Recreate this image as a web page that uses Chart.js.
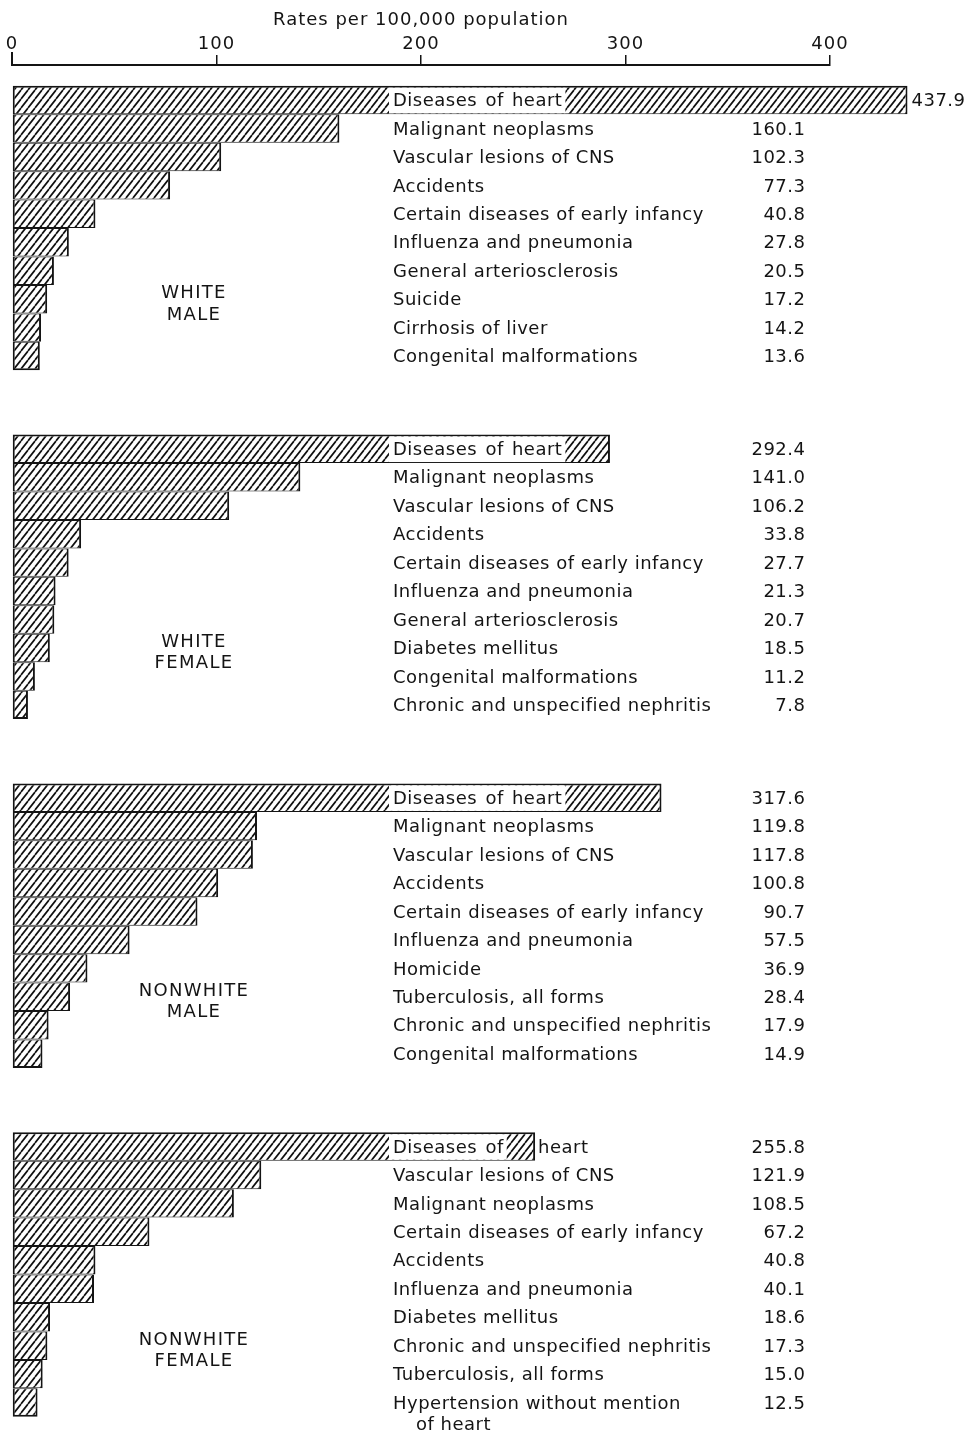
<!DOCTYPE html>
<html>
<head>
<meta charset="utf-8">
<script src="https://cdn.jsdelivr.net/npm/chart.js@4.4.0/dist/chart.umd.min.js"></script>
<style>
  html, body { margin: 0; padding: 0; background: #ffffff; }
  #wrap { position: relative; width: 974px; height: 1433px; }
</style>
</head>
<body>
<div id="wrap"><canvas id="chart" width="974" height="1433"></canvas></div>
<script>
// Leading causes of death, rates per 100,000 population, by colour and sex
const axisTicks = [0, 100, 200, 300, 400];
const axisTitle = 'Rates per 100,000 population';

const whiteMaleCauses = ['Diseases of heart', 'Malignant neoplasms', 'Vascular lesions of CNS', 'Accidents',
  'Certain diseases of early infancy', 'Influenza and pneumonia', 'General arteriosclerosis', 'Suicide',
  'Cirrhosis of liver', 'Congenital malformations'];
const whiteMaleRates = [437.9, 160.1, 102.3, 77.3, 40.8, 27.8, 20.5, 17.2, 14.2, 13.6];

const whiteFemaleCauses = ['Diseases of heart', 'Malignant neoplasms', 'Vascular lesions of CNS', 'Accidents',
  'Certain diseases of early infancy', 'Influenza and pneumonia', 'General arteriosclerosis', 'Diabetes mellitus',
  'Congenital malformations', 'Chronic and unspecified nephritis'];
const whiteFemaleRates = [292.4, 141.0, 106.2, 33.8, 27.7, 21.3, 20.7, 18.5, 11.2, 7.8];

const nonwhiteMaleCauses = ['Diseases of heart', 'Malignant neoplasms', 'Vascular lesions of CNS', 'Accidents',
  'Certain diseases of early infancy', 'Influenza and pneumonia', 'Homicide', 'Tuberculosis, all forms',
  'Chronic and unspecified nephritis', 'Congenital malformations'];
const nonwhiteMaleRates = [317.6, 119.8, 117.8, 100.8, 90.7, 57.5, 36.9, 28.4, 17.9, 14.9];

const nonwhiteFemaleCauses = ['Diseases of heart', 'Vascular lesions of CNS', 'Malignant neoplasms',
  'Certain diseases of early infancy', 'Accidents', 'Influenza and pneumonia', 'Diabetes mellitus',
  'Chronic and unspecified nephritis', 'Tuberculosis, all forms', 'Hypertension without mention\nof heart'];
const nonwhiteFemaleRates = [255.8, 121.9, 108.5, 67.2, 40.8, 40.1, 18.6, 17.3, 15.0, 12.5];

const groupNames = [['WHITE', 'MALE'], ['WHITE', 'FEMALE'], ['NONWHITE', 'MALE'], ['NONWHITE', 'FEMALE']];

const groups = [
  { name: groupNames[0], causes: whiteMaleCauses, rates: whiteMaleRates },
  { name: groupNames[1], causes: whiteFemaleCauses, rates: whiteFemaleRates },
  { name: groupNames[2], causes: nonwhiteMaleCauses, rates: nonwhiteMaleRates },
  { name: groupNames[3], causes: nonwhiteFemaleCauses, rates: nonwhiteFemaleRates }
];

// layout along the (hidden) vertical axis: one unit per bar, a gap between panels
const GROUP_STEP = 12.26;
const Y_MIN = -1.23, Y_MAX = 46.85;
const LABEL_AT = 186.3;      // x value where cause names start
const VALUE_AT = 388;        // x value where rate figures end
const NAME_AT = 89;          // x value at the centre of the panel names
const NAME_ROWS = [6.77, 7.52];
const INK = '#141414';
const FONT = '"DejaVu Sans", sans-serif';

// data points: one bar per cause, placed on a numeric row axis
const points = [];
const rowOf = [];
groups.forEach((grp, g) => {
  grp.rates.forEach((v, i) => {
    points.push({ x: v, y: g * GROUP_STEP + i });
    rowOf.push(i);
  });
});

// diagonal hatching used to fill the bars
function makeHatch() {
  const w = 7, h = 9;
  const t = document.createElement('canvas');
  t.width = w; t.height = h;
  const g = t.getContext('2d');
  g.fillStyle = '#ffffff';
  g.fillRect(0, 0, w, h);
  g.strokeStyle = '#111111';
  g.lineWidth = 1.7;
  g.beginPath();
  for (const dx of [-w, 0, w]) {
    g.moveTo(dx, h);
    g.lineTo(dx + w, 0);
  }
  g.stroke();
  return document.getElementById('chart').getContext('2d').createPattern(t, 'repeat');
}

const spacing = {
  id: 'spacing',
  beforeDraw(chart) { chart.ctx.letterSpacing = '1px'; }
};

const annotate = {
  id: 'annotate',
  afterDatasetsDraw(chart) {
    const { ctx, chartArea } = chart;
    const xs = chart.scales.x, ys = chart.scales.y;
    const meta = chart.getDatasetMeta(0);
    ctx.save();

    // the zero tick stands a little taller than the others
    ctx.strokeStyle = INK;
    ctx.lineWidth = 2;
    ctx.beginPath();
    ctx.moveTo(xs.getPixelForValue(0), chartArea.top - 13);
    ctx.lineTo(xs.getPixelForValue(0), chartArea.top);
    ctx.stroke();

    ctx.fillStyle = INK;
    ctx.textBaseline = 'middle';
    ctx.font = '18px ' + FONT;
    ctx.letterSpacing = '0.5px';
    const labelX = xs.getPixelForValue(LABEL_AT);
    const valueX = xs.getPixelForValue(VALUE_AT);
    let k = 0;
    groups.forEach((grp, g) => {
      grp.causes.forEach((cause, i) => {
        const bar = meta.data[k++];
        const p = bar.getProps(['x', 'y', 'height'], true);
        const endX = p.x, cy = p.y + 1.5, top = p.y - p.height / 2, bottom = p.y + p.height / 2;
        const lines = cause.split('\n');

        if (endX > labelX) {
          // name runs over its own bar: words inside get a white ground, the rest follow the bar end
          const words = lines[0].split(' ');
          const space = ctx.measureText(' ').width + 2;
          let cx = labelX, outside = false;
          const placed = [];
          words.forEach(wd => {
            const wdW = ctx.measureText(wd).width;
            if (!outside && cx + wdW > endX - 6) {
              outside = true;
              cx = Math.max(cx, endX + 3);
            }
            placed.push({ wd, x: cx, w: wdW, inside: !outside });
            cx += wdW + space;
          });
          const ins = placed.filter(q => q.inside);
          if (ins.length) {
            const last = ins[ins.length - 1];
            const boxEnd = last.x + last.w + 3;
            ctx.fillStyle = '#ffffff';
            ctx.fillRect(labelX - 4, top + 2, boxEnd - labelX + 4, bottom - top - 3);
            ctx.fillStyle = INK;
          }
          ctx.textAlign = 'left';
          placed.forEach(q => ctx.fillText(q.wd, q.x, cy));
        } else {
          ctx.textAlign = 'left';
          lines.forEach((ln, j) => ctx.fillText(ln, labelX + (j ? 23 : 0), cy + j * 21));
        }

        // the rate figure: in its column, or just past a bar that reaches it
        const txt = grp.rates[i].toFixed(1);
        const tw = ctx.measureText(txt).width;
        if (endX > valueX - tw - 8) {
          ctx.textAlign = 'left';
          ctx.fillText(txt, endX + 4, cy);
        } else {
          ctx.textAlign = 'right';
          ctx.fillText(txt, valueX, cy);
        }
      });

      // panel name
      ctx.textAlign = 'center';
      ctx.letterSpacing = '1.3px';
      const nx = xs.getPixelForValue(NAME_AT);
      grp.name.forEach((ln, j) => {
        ctx.fillText(ln, nx, ys.getPixelForValue(g * GROUP_STEP + NAME_ROWS[j]) + 1);
      });
      ctx.letterSpacing = '0.5px';
    });
    ctx.restore();
  }
};

const ctx = document.getElementById('chart').getContext('2d');
const hatch = makeHatch();

new Chart(ctx, {
  type: 'bar',
  data: {
    datasets: [{
      data: points,
      backgroundColor: hatch,
      borderColor: INK,
      borderWidth: c => ({ left: 2, right: 2, top: rowOf[c.dataIndex] === 0 ? 2 : 1, bottom: rowOf[c.dataIndex] === 9 ? 2 : 1 }),
      borderSkipped: false,
      barPercentage: 1,
      categoryPercentage: 1,
      inflateAmount: 0,
      clip: false
    }]
  },
  options: {
    indexAxis: 'y',
    responsive: false,
    animation: false,
    events: [],
    layout: { padding: { left: 12, right: 144, top: 0, bottom: 0 } },
    plugins: { legend: { display: false }, tooltip: { enabled: false } },
    scales: {
      x: {
        type: 'linear',
        position: 'top',
        min: axisTicks[0],
        max: axisTicks[axisTicks.length - 1],
        afterBuildTicks: s => { s.ticks = axisTicks.map(v => ({ value: v })); },
        afterFit: s => { s.height = 65; },
        border: { display: true, width: 2, color: INK },
        grid: { drawOnChartArea: false, drawTicks: true, tickLength: 10, lineWidth: 1.5, color: INK },
        ticks: { color: INK, font: { family: FONT, size: 18 }, padding: 0, maxRotation: 0, autoSkip: false },
        title: { display: true, text: axisTitle, color: INK, font: { family: FONT, size: 18 }, padding: { top: 9.5, bottom: 0 } }
      },
      y: {
        type: 'linear',
        reverse: true,
        offset: false,
        min: Y_MIN,
        max: Y_MAX,
        display: false,
        grid: { offset: false },
        ticks: { stepSize: 10 }
      }
    }
  },
  plugins: [spacing, annotate]
});
</script>
</body>
</html>
